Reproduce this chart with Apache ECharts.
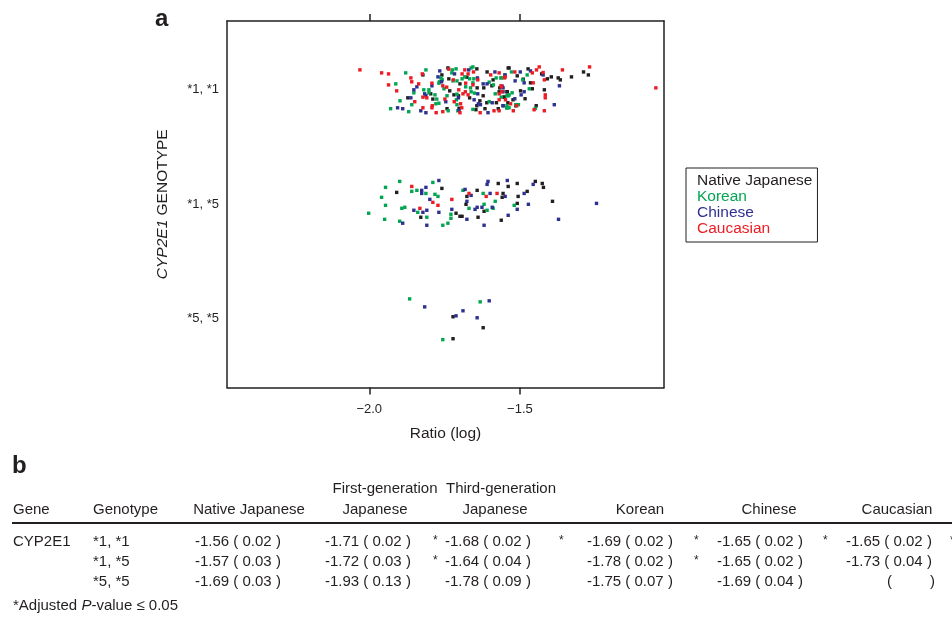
<!DOCTYPE html>
<html>
<head>
<meta charset="utf-8">
<script src="https://cdn.jsdelivr.net/npm/echarts@6/dist/echarts.min.js"></script>
<style>
  html, body { margin: 0; padding: 0; background: #fff; }
  #chart { width: 952px; height: 621px; }
</style>
</head>
<body>
<div id="chart"></div>
<script>
// ---- Scatter data: [log ratio, genotype position + jitter]; 3 = *1,*1, 2 = *1,*5, 1 = *5,*5
const nativeJapanese = [
  [-1.822,3.127],[-1.796,2.962],[-1.789,2.916],[-1.872,2.927],[-1.742,2.832],[-1.739,3.188],[-1.643,3.180],
  [-1.759,3.127],[-1.736,3.093],[-1.699,3.049],[-1.676,3.107],[-1.733,2.988],[-1.719,2.953],[-1.704,2.945],
  [-1.702,2.835],[-1.642,3.014],[-1.633,2.901],[-1.667,2.927],[-1.643,2.858],[-1.646,2.823],[-1.616,2.832],
  [-1.609,3.153],[-1.539,3.188],[-1.589,3.084],[-1.593,3.032],[-1.620,3.014],[-1.567,3.014],[-1.569,2.980],
  [-1.542,2.980],[-1.552,2.933],[-1.622,2.945],[-1.610,2.884],[-1.578,2.884],[-1.540,2.884],[-1.572,2.832],
  [-1.536,3.188],[-1.473,3.180],[-1.428,3.136],[-1.329,3.110],[-1.289,3.153],[-1.273,3.127],[-1.396,3.110],
  [-1.409,3.093],[-1.373,3.101],[-1.366,3.084],[-1.509,3.119],[-1.489,3.090],[-1.465,3.058],[-1.459,3.006],
  [-1.419,2.997],[-1.498,2.988],[-1.543,2.980],[-1.553,2.933],[-1.523,2.910],[-1.483,2.919],[-1.543,2.840],
  [-1.514,2.858],[-1.446,2.858],
  [-1.759,2.136],[-1.909,2.101],[-1.829,1.884],[-1.712,1.919],[-1.699,1.892],[-1.692,1.892],[-1.639,1.884],
  [-1.676,2.066],[-1.679,1.997],[-1.642,2.119],[-1.619,1.936],[-1.572,2.179],[-1.556,2.092],[-1.559,2.058],
  [-1.539,2.153],[-1.509,2.179],[-1.509,2.005],[-1.506,2.066],[-1.562,1.858],[-1.476,2.110],[-1.449,2.197],
  [-1.426,2.179],[-1.422,2.145],[-1.392,2.023],
  [-1.722,1.015],[-1.622,0.919],[-1.722,0.823]
];
const korean = [
  [-1.879,3.145],[-1.812,3.171],[-1.912,3.049],[-1.852,2.971],[-1.819,2.997],[-1.802,2.997],[-1.802,2.971],
  [-1.782,2.953],[-1.776,2.916],[-1.898,2.901],[-1.859,2.867],[-1.929,2.832],[-1.869,2.806],[-1.779,2.875],
  [-1.769,2.880],[-1.738,2.814],[-1.742,2.945],[-1.724,3.171],[-1.712,3.180],[-1.726,3.145],[-1.662,3.188],
  [-1.656,3.197],[-1.762,3.101],[-1.758,3.084],[-1.767,3.067],[-1.769,3.055],[-1.722,3.075],[-1.709,3.075],
  [-1.692,3.093],[-1.683,3.110],[-1.667,3.093],[-1.653,3.093],[-1.656,3.058],[-1.752,3.006],[-1.680,3.023],
  [-1.662,2.980],[-1.664,3.014],[-1.709,2.959],[-1.711,2.910],[-1.709,2.867],[-1.706,2.814],[-1.651,2.968],
  [-1.656,2.826],[-1.602,3.064],[-1.588,3.040],[-1.579,3.101],[-1.563,3.101],[-1.582,2.962],[-1.539,2.945],
  [-1.602,2.893],[-1.544,2.840],
  [-1.528,3.153],[-1.549,3.127],[-1.562,3.101],[-1.476,3.127],[-1.491,3.084],[-1.469,3.006],[-1.526,2.971],
  [-1.536,2.953],[-1.543,2.945],[-1.562,2.933],[-1.543,2.858],[-1.536,2.840],[-1.514,2.867],[-1.505,2.867],
  [-1.449,2.835],
  [-1.899,2.197],[-1.789,2.188],[-1.946,2.145],[-1.859,2.110],[-1.842,2.119],[-1.812,2.092],[-1.782,2.084],
  [-1.772,2.066],[-1.959,2.058],[-1.946,1.988],[-1.892,1.962],[-1.882,1.971],[-1.839,1.927],[-1.809,1.884],
  [-2.002,1.919],[-1.949,1.866],[-1.899,1.849],[-1.729,1.910],[-1.729,1.875],[-1.739,1.832],[-1.756,1.814],
  [-1.689,2.119],[-1.669,1.962],[-1.619,1.997],[-1.622,2.092],[-1.609,1.945],[-1.589,1.962],[-1.582,2.023],
  [-1.519,1.988],
  [-1.866,1.171],[-1.632,1.145],[-1.756,0.815]
];
const chinese = [
  [-1.842,3.023],[-1.852,2.997],[-1.816,2.962],[-1.812,2.945],[-1.862,2.927],[-1.906,2.840],[-1.889,2.832],
  [-1.829,2.814],[-1.812,2.797],[-1.746,2.893],[-1.766,3.162],[-1.717,3.136],[-1.670,3.171],[-1.772,3.110],
  [-1.760,3.067],[-1.792,3.032],[-1.641,3.101],[-1.704,2.927],[-1.702,2.817],[-1.652,2.910],[-1.640,2.962],
  [-1.638,2.875],[-1.631,2.867],[-1.606,2.797],[-1.583,3.153],[-1.550,3.127],[-1.622,3.049],[-1.609,3.049],
  [-1.559,3.029],[-1.556,2.980],[-1.592,2.884],[-1.556,2.858],
  [-1.499,3.153],[-1.465,3.162],[-1.423,3.127],[-1.369,3.032],[-1.516,3.075],[-1.486,3.058],[-1.556,3.014],
  [-1.486,2.980],[-1.496,2.953],[-1.517,2.919],[-1.386,2.867],[-1.556,2.858],
  [-1.769,2.205],[-1.812,2.145],[-1.826,2.119],[-1.826,2.092],[-1.799,2.040],[-1.852,1.945],[-1.822,1.927],
  [-1.809,1.945],[-1.769,1.927],[-1.889,1.832],[-1.809,1.814],[-1.726,1.953],[-1.676,1.866],[-1.619,1.814],
  [-1.682,2.127],[-1.662,2.075],[-1.676,2.023],[-1.642,1.971],[-1.649,1.953],[-1.626,1.971],[-1.592,1.971],
  [-1.599,2.092],[-1.609,2.171],[-1.606,2.197],[-1.549,2.066],[-1.542,2.205],[-1.509,1.953],[-1.539,1.901],
  [-1.486,2.092],[-1.472,1.997],[-1.456,2.171],[-1.372,1.866],[-1.246,2.005],
  [-1.816,1.101],[-1.712,1.023],[-1.689,1.067],[-1.602,1.154],[-1.642,1.006]
];
const caucasian = [
  [-2.031,3.171],[-1.959,3.145],[-1.936,3.136],[-1.936,3.040],[-1.909,2.988],[-1.862,3.101],[-1.859,3.067],
  [-1.836,3.049],[-1.849,2.893],[-1.824,3.136],[-1.792,3.055],[-1.822,2.933],[-1.809,2.927],[-1.822,2.840],
  [-1.791,2.858],[-1.792,2.840],[-1.778,2.797],[-1.756,2.806],[-1.749,2.916],[-1.736,3.177],[-1.692,3.136],
  [-1.683,3.171],[-1.672,3.136],[-1.654,3.153],[-1.640,3.084],[-1.680,3.055],[-1.756,3.032],[-1.743,3.020],
  [-1.703,2.997],[-1.689,2.962],[-1.681,2.980],[-1.718,2.893],[-1.697,2.875],[-1.693,2.840],[-1.699,2.797],
  [-1.656,3.040],[-1.672,2.953],[-1.632,2.797],[-1.597,3.127],[-1.569,3.145],[-1.549,3.110],[-1.561,3.023],
  [-1.569,2.962],[-1.569,2.910],[-1.548,2.910],[-1.569,2.814],[-1.586,2.814],[-1.721,3.084],
  [-1.517,3.153],[-1.459,3.145],[-1.445,3.171],[-1.436,3.197],[-1.423,3.148],[-1.359,3.171],[-1.269,3.197],
  [-1.419,3.084],[-1.049,3.014],[-1.551,3.101],[-1.456,3.058],[-1.563,3.032],[-1.560,2.980],[-1.416,2.953],
  [-1.416,2.927],[-1.531,2.875],[-1.522,2.814],[-1.453,2.823],[-1.419,2.814],[-1.511,2.858],
  [-1.859,2.153],[-1.789,2.014],[-1.772,1.988],[-1.726,2.040],[-1.832,1.962],[-1.669,2.092],[-1.612,2.066],
  [-1.576,2.092]
];

const groupNames = ['Native Japanese', 'Korean', 'Chinese', 'Caucasian'];
const groupColors = ['#231f20', '#00a651', '#2e3192', '#ed1c24'];
const groupData = [nativeJapanese, korean, chinese, caucasian];

const genotypeTicks = [1, 2, 3];
const genotypeLabels = ['*5, *5', '*1, *5', '*1, *1'];
const ratioTicks = [-2.0, -1.5];

// ---- Table of panel b
const tableGene = 'CYP2E1';
const tableGenotypes = ['*1, *1', '*1, *5', '*5, *5'];
const meanNative = [-1.56, -1.57, -1.69];   const seNative = [0.02, 0.03, 0.03];   const sigNative = [0, 0, 0];
const meanFirstGen = [-1.71, -1.72, -1.93]; const seFirstGen = [0.02, 0.03, 0.13]; const sigFirstGen = [1, 1, 0];
const meanThirdGen = [-1.68, -1.64, -1.78]; const seThirdGen = [0.02, 0.04, 0.09]; const sigThirdGen = [1, 0, 0];
const meanKorean = [-1.69, -1.78, -1.75];   const seKorean = [0.02, 0.02, 0.07];   const sigKorean = [1, 1, 0];
const meanChinese = [-1.65, -1.65, -1.69];  const seChinese = [0.02, 0.02, 0.04];  const sigChinese = [1, 0, 0];
const meanCaucasian = [-1.65, -1.73, null]; const seCaucasian = [0.02, 0.04, null]; const sigCaucasian = [1, 0, 0];
const footnote = '*Adjusted {i|P}-value \u2264 0.05';

const FONT = "'Liberation Sans', Arial, Helvetica, sans-serif";
const INK = '#231f20';

const chart = echarts.init(document.getElementById('chart'), null, { renderer: 'canvas' });

const series = groupNames.map((name, i) => ({
  name,
  type: 'scatter',
  data: groupData[i],
  symbol: 'rect',
  symbolSize: 3.4,
  itemStyle: { color: groupColors[i], opacity: 1 },
  emphasis: { disabled: true },
  silent: true,
  animation: false
}));

// graphic elements for panel labels and the table
const graphics = [];
function txt(x, y, text, opts) {
  graphics.push({
    type: 'text', x, y, silent: true,
    style: Object.assign({
      text, fill: INK, font: '15px ' + FONT,
      textAlign: 'left', textVerticalAlign: 'middle'
    }, opts || {})
  });
}
txt(155, 19, 'a', { font: 'bold 24px ' + FONT });
txt(12, 466, 'b', { font: 'bold 24px ' + FONT });

// header
const headerLine2Y = 510, headerLine1Y = 489;
txt(13, headerLine2Y, 'Gene');
txt(93, headerLine2Y, 'Genotype');
txt(249, headerLine2Y, 'Native Japanese', { textAlign: 'center' });
txt(385, headerLine1Y, 'First-generation', { textAlign: 'center' });
txt(375, headerLine2Y, 'Japanese', { textAlign: 'center' });
txt(501, headerLine1Y, 'Third-generation', { textAlign: 'center' });
txt(495, headerLine2Y, 'Japanese', { textAlign: 'center' });
txt(640, headerLine2Y, 'Korean', { textAlign: 'center' });
txt(769, headerLine2Y, 'Chinese', { textAlign: 'center' });
txt(897, headerLine2Y, 'Caucasian', { textAlign: 'center' });
graphics.push({
  type: 'line', silent: true,
  shape: { x1: 12, y1: 523, x2: 952, y2: 523 },
  style: { stroke: INK, lineWidth: 2 }
});

const rowY = [542, 562, 582];
const columns = [
  { x: 195, star: null, mean: meanNative, se: seNative, sig: sigNative },
  { x: 325, star: 433, mean: meanFirstGen, se: seFirstGen, sig: sigFirstGen },
  { x: 445, star: 559, mean: meanThirdGen, se: seThirdGen, sig: sigThirdGen },
  { x: 587, star: 694, mean: meanKorean, se: seKorean, sig: sigKorean },
  { x: 717, star: 823, mean: meanChinese, se: seChinese, sig: sigChinese },
  { x: 846, star: 950, mean: meanCaucasian, se: seCaucasian, sig: sigCaucasian }
];
txt(13, rowY[0], tableGene);
tableGenotypes.forEach((g, r) => txt(93, rowY[r], g));
columns.forEach(col => {
  col.mean.forEach((m, r) => {
    if (m === null) {
      txt(col.x + 41, rowY[r], '(');
      txt(col.x + 84, rowY[r], ')');
    } else {
      txt(col.x, rowY[r], m.toFixed(2) + ' ( ' + col.se[r].toFixed(2) + ' )');
    }
    if (col.sig[r] && col.star !== null) {
      txt(col.star, rowY[r] - 1, '*', { font: '12px ' + FONT });
    }
  });
});
graphics.push({
  type: 'text', x: 13, y: 606, silent: true,
  style: {
    text: footnote, fill: INK, font: '15px ' + FONT,
    textAlign: 'left', textVerticalAlign: 'middle',
    rich: { i: { fontStyle: 'italic', fontSize: 15, fontFamily: FONT, fill: INK } }
  }
});

const axisLineStyle = { color: INK, width: 1.5 };
const xRange = { min: -2.472, max: -1.022 };
const yRange = { min: 0.397, max: 3.598 };

const option = {
  backgroundColor: '#fff',
  animation: false,
  textStyle: { fontFamily: FONT },
  grid: {
    left: 227, right: 288, top: 21, bottom: 233.5,
    outerBoundsMode: 'none', containLabel: false
  },
  legend: {
    orient: 'vertical',
    left: 686, top: 168,
    padding: [5, 5, 5, 6],
    itemGap: 0,
    itemWidth: 0, itemHeight: 14,
    icon: 'none',
    borderColor: INK, borderWidth: 1,
    selectedMode: false,
    textStyle: { fontSize: 15.5, lineHeight: 16, fontFamily: FONT },
    data: groupNames.map((n, i) => ({ name: n, textStyle: { color: groupColors[i] } }))
  },
  xAxis: [
    {
      type: 'value', position: 'bottom', ...xRange,
      axisLine: { show: true, onZero: false, lineStyle: axisLineStyle },
      axisTick: { show: true, inside: false, length: 7, customValues: ratioTicks, lineStyle: axisLineStyle },
      axisLabel: {
        show: true, customValues: ratioTicks, margin: 15,
        fontSize: 13, color: INK, fontFamily: FONT,
        formatter: v => v.toFixed(1).replace('-', '\u2212')
      },
      splitLine: { show: false },
      name: 'Ratio (log)', nameLocation: 'middle', nameGap: 38,
      nameTextStyle: { fontSize: 15.5, color: INK, fontFamily: FONT }
    },
    {
      type: 'value', position: 'top', ...xRange,
      axisLine: { show: true, onZero: false, lineStyle: axisLineStyle },
      axisTick: { show: true, inside: false, length: 7, customValues: ratioTicks, lineStyle: axisLineStyle },
      axisLabel: { show: false },
      splitLine: { show: false }
    }
  ],
  yAxis: [
    {
      type: 'value', position: 'left', ...yRange,
      axisLine: { show: true, onZero: false, lineStyle: axisLineStyle },
      axisTick: { show: false },
      axisLabel: {
        show: true, customValues: genotypeTicks, margin: 8,
        fontSize: 13, color: INK, fontFamily: FONT,
        formatter: v => genotypeLabels[genotypeTicks.indexOf(Math.round(v))] || ''
      },
      splitLine: { show: false },
      name: '{i|CYP2E1} GENOTYPE', nameLocation: 'middle', nameGap: 56, nameRotate: 90,
      nameTextStyle: {
        fontSize: 15.5, color: INK, fontFamily: FONT,
        rich: { i: { fontStyle: 'italic', fontSize: 15.5, color: INK, fontFamily: FONT } }
      }
    },
    {
      type: 'value', position: 'right', ...yRange,
      axisLine: { show: true, onZero: false, lineStyle: axisLineStyle },
      axisTick: { show: false },
      axisLabel: { show: false },
      splitLine: { show: false }
    }
  ],
  series,
  graphic: graphics
};

chart.setOption(option);
</script>
</body>
</html>
